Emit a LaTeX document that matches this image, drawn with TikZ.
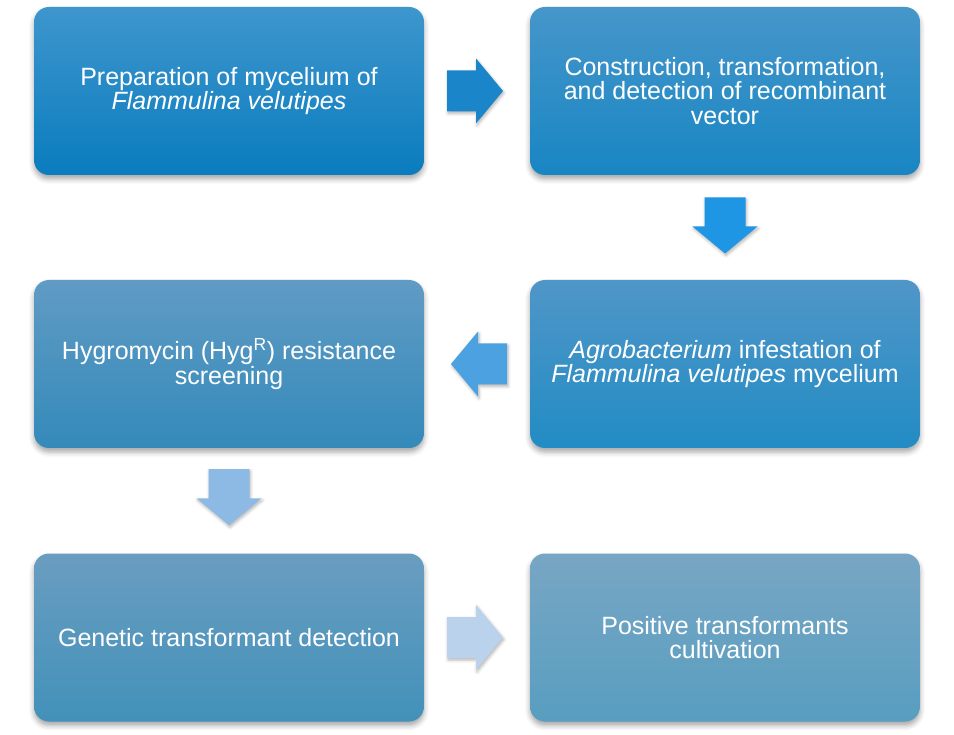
\documentclass[tikz,border=0pt]{standalone}
\usepackage{fontspec}
\setmainfont{Liberation Sans}
\usetikzlibrary{calc,shadows.blur}
\definecolor{bAt}{RGB}{62,150,205}\definecolor{bAb}{RGB}{10,124,190}
\definecolor{bBt}{RGB}{70,150,202}\definecolor{bBb}{RGB}{24,134,195}
\definecolor{bCt}{RGB}{96,155,196}\definecolor{bCb}{RGB}{52,138,186}
\definecolor{bDt}{RGB}{80,150,200}\definecolor{bDb}{RGB}{34,140,196}
\definecolor{bEt}{RGB}{106,157,192}\definecolor{bEb}{RGB}{66,145,186}
\definecolor{bFt}{RGB}{120,166,196}\definecolor{bFb}{RGB}{88,158,192}
\definecolor{aA}{RGB}{26,133,201}
\definecolor{aB}{RGB}{30,150,228}
\definecolor{aC}{RGB}{76,161,225}
\definecolor{aD}{RGB}{141,186,228}
\definecolor{aE}{RGB}{186,210,235}
\tikzset{
  stepbox/.style={rounded corners=15pt, minimum width=390pt, minimum height=168pt,
    inner sep=0pt, align=center, text=white, font=\fontsize{25}{24.6}\selectfont,
    blur shadow={shadow xshift=0pt, shadow yshift=-4pt, shadow blur radius=5pt, shadow opacity=35}},
  pics/barrow/.style={code={
    \fill[#1, blur shadow={shadow xshift=1pt, shadow yshift=-2pt, shadow blur radius=3pt, shadow opacity=30}]
      (-30,-20.5) -- (-1,-20.5) -- (-1,-32.5) -- (26,0) -- (-1,32.5) -- (-1,20.5) -- (-30,20.5) -- cycle;
  }}
}
\begin{document}
\begin{tikzpicture}[x=1pt,y=-1pt]
\useasboundingbox (0,0) rectangle (954,735);
\node[stepbox, top color=bAt, bottom color=bAb] (b1) at (229,91) {Preparation of mycelium of\\\textit{Flammulina velutipes}};
\node[stepbox, top color=bBt, bottom color=bBb] (b2) at (725,91) {Construction, transformation,\\and detection of recombinant\\vector};
\node[stepbox, top color=bDt, bottom color=bDb] (b4) at (725,364) {\textit{Agrobacterium} infestation of\\\textit{Flammulina velutipes} mycelium};
\node[stepbox, top color=bCt, bottom color=bCb] (b3) at (229,364) {Hygromycin (Hyg\textsuperscript{R}) resistance\\screening};
\node[stepbox, top color=bEt, bottom color=bEb] (b5) at (229,637.5) {Genetic transformant detection};
\node[stepbox, top color=bFt, bottom color=bFb] (b6) at (725,637.5) {Positive transformants\\cultivation};
\coordinate (m12) at ($(b1.east)!0.5!(b2.west)$);
\coordinate (m24) at ($(b2.south)!0.5!(b4.north)$);
\coordinate (m43) at ($(b4.west)!0.5!(b3.east)$);
\coordinate (m35) at ($(b3.south)!0.5!(b5.north)$);
\coordinate (m56) at ($(b5.east)!0.5!(b6.west)$);
\pic at (m12) {barrow=aA};
\pic[rotate=-90] at (m24) {barrow=aB};
\pic[rotate=180] at (m43) {barrow=aC};
\pic[rotate=-90] at ([yshift=1.5pt]m35) {barrow=aD};
\pic at (m56) {barrow=aE};
\end{tikzpicture}
\end{document}
